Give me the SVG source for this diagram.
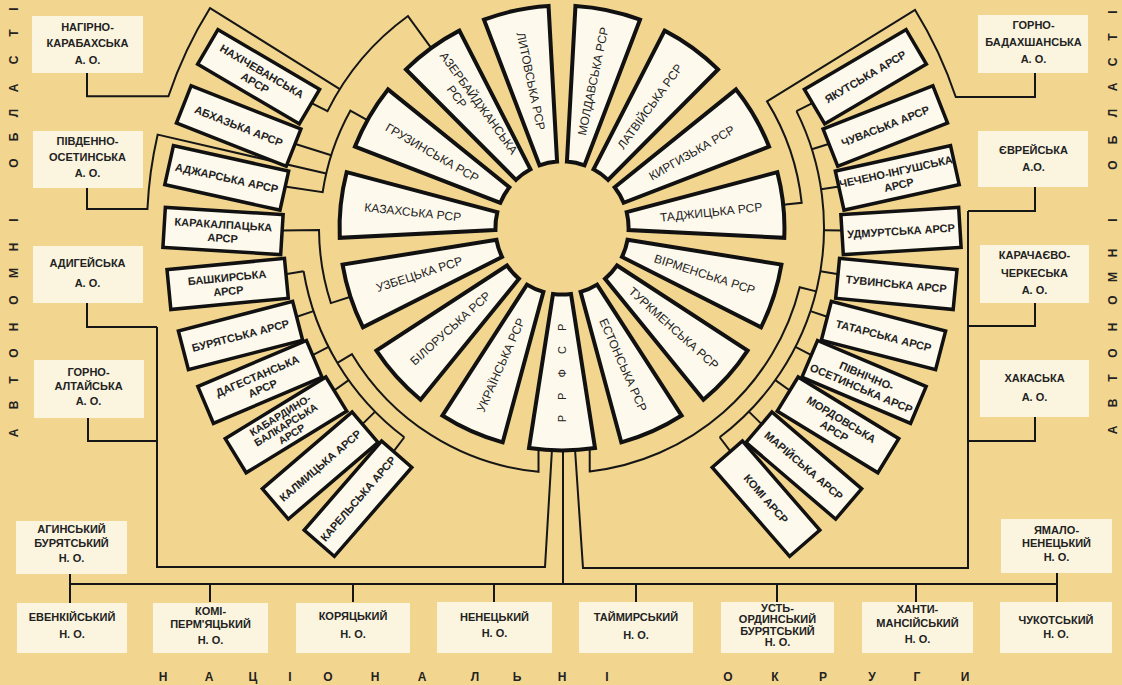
<svg xmlns="http://www.w3.org/2000/svg" width="1122" height="685" viewBox="0 0 1122 685">
<defs>
<style>
.bg{fill:#f2d690}
.sec{fill:#fdf9ec;stroke:#111;stroke-width:4;stroke-linejoin:miter}
.box{fill:#fdf9ec;stroke:#111;stroke-width:3.5}
.lbl{fill:#fbf5df}
.c path{fill:none;stroke:#161616;stroke-width:2;stroke-linejoin:miter}
.st{font-family:"Liberation Sans",Arial,sans-serif;font-size:12px;fill:#222;text-anchor:middle}
.at{font-family:"Liberation Sans",Arial,sans-serif;font-size:11px;font-weight:bold;fill:#222;text-anchor:middle}
.at3{font-family:"Liberation Sans",Arial,sans-serif;font-size:10.5px;font-weight:bold;fill:#222;text-anchor:middle}
.ot{font-family:"Liberation Sans",Arial,sans-serif;font-size:11px;font-weight:bold;fill:#222;text-anchor:middle}
.big{font-family:"Liberation Sans",Arial,sans-serif;font-size:12px;font-weight:bold;fill:#222;text-anchor:middle}
</style>
<path id="sec" d="M66,-9 L220,-33 A222.5,222.5 0 0 1 220,33 L66,9 A66.6,66.6 0 0 0 66,-9 Z"/>
</defs>
<rect class="bg" width="1122" height="685"/>

<g id="connectors" class="c">
<path d="M87,73 V96.3 H168.45 A415,415 0 0 1 210.06,8.08 L339.81,89.16"/>
<path d="M309.63,102.17 L327.53,111.10 A262,262 0 0 1 408.00,16.04 L435.63,54.06"/>
<path d="M373.96,123.77 L350.34,110.68 A242,242 0 0 0 322.66,192.23 L283.10,186.32"/>
<path d="M331.20,155.23 L293.05,143.20"/>
<path d="M87,188 V209 H147.43 A415,415 0 0 1 157.64,134.65 L326.20,173.56"/>
<path d="M282,230.46 L319,230.12 A243,243 0 0 0 330.89,303.09 L357.52,294.44"/>
<path d="M303.59,271.24 A262,262 0 0 0 404.32,437.24"/>
<path d="M283.87,274.54 L303.59,271.24 M294.57,317.48 L313.54,311.13 M310.74,356.03 L328.56,346.95 M332.42,391.76 L348.70,380.14 M360.86,425.66 L375.13,411.64 M392.29,453.22 L404.32,437.24"/>
<path d="M538.5,449 L538.52,471.87 A245,245 0 0 1 351.99,354.18 L337.42,362.94"/>
<path d="M796.47,111.10 A262,262 0 0 1 719.68,437.24"/>
<path d="M814.37,102.17 L796.47,111.10 M830.95,143.20 L811.87,149.21 M840.90,186.32 L821.12,189.27 M843.99,230.46 L823.99,230.29 M840.13,274.54 L820.41,271.24 M829.43,317.48 L810.46,311.13 M813.26,356.03 L795.44,346.95 M791.58,391.76 L775.30,380.14 M763.14,425.66 L748.87,411.64 M731.71,453.22 L719.68,437.24"/>
<path d="M589.7,449 L589.73,471.42 A245,245 0 0 0 799.72,287.27 L816.22,291.38"/>
<path d="M1035,73 V97 H955.78 A415,415 0 0 0 915.09,9.93 L767.05,101.36 A241,241 0 0 1 801.68,202.81 L775.82,205.53"/>
<path d="M87,303 V327 H157 M88,418 V441 H157 M157,327 V567 H545 L552,449"/>
<path d="M1035,187 V211 H968 M1035,303 V326 H968 M1035,417 V441 H968 M968,211 V568 H583 L575,449"/>
<path d="M563,449 V584 M70,584 H1057 M70,574 V603 M1057,573 V602 M210,584 V602 M353,584 V602 M494,584 V602 M636,584 V602 M777,584 V602 M916,584 V602"/>
</g>

<g id="republics">
<g id="ssr-rsfsr" transform="translate(562,228) rotate(90)"><use href="#sec" class="sec"/><text class="st" style="font-size:11px" transform="rotate(180 145 0)" x="148" y="4" letter-spacing="6">Р Р Ф С Р</text></g>
<g id="ssr-estonia" transform="translate(562,228) rotate(66)"><use href="#sec" class="sec"/><text class="st" x="150" y="4">ЕСТОНСЬКА РСР</text></g>
<g id="ssr-turkmenia" transform="translate(562,228) rotate(42)"><use href="#sec" class="sec"/><text class="st" x="150" y="4">ТУРКМЕНСЬКА РСР</text></g>
<g id="ssr-armenia" transform="translate(562,228) rotate(18)"><use href="#sec" class="sec"/><text class="st" x="150" y="4">ВІРМЕНСЬКА РСР</text></g>
<g id="ssr-tajikistan" transform="translate(562,228) rotate(-6)"><use href="#sec" class="sec"/><text class="st" x="150" y="4">ТАДЖИЦЬКА РСР</text></g>
<g id="ssr-kyrgyzstan" transform="translate(562,228) rotate(-30)"><use href="#sec" class="sec"/><text class="st" x="150" y="4">КИРГИЗЬКА РСР</text></g>
<g id="ssr-latvia" transform="translate(562,228) rotate(-54)"><use href="#sec" class="sec"/><text class="st" x="150" y="4">ЛАТВІЙСЬКА РСР</text></g>
<g id="ssr-moldavia" transform="translate(562,228) rotate(-78)"><use href="#sec" class="sec"/><text class="st" x="150" y="4">МОЛДАВСЬКА РСР</text></g>
<g id="ssr-lithuania" transform="translate(562,228) rotate(-102)"><use href="#sec" class="sec"/><text class="st" transform="rotate(180 150 0)" x="150" y="4">ЛИТОВСЬКА РСР</text></g>
<g id="ssr-azerbaijan" transform="translate(562,228) rotate(-126)"><use href="#sec" class="sec"/><g transform="rotate(180 150 0)"><text class="st" x="150" y="-2">АЗЕРБАЙДЖАНСЬКА</text><text class="st" x="132" y="12">РСР</text></g></g>
<g id="ssr-georgia" transform="translate(562,228) rotate(-150)"><use href="#sec" class="sec"/><text class="st" transform="rotate(180 150 0)" x="150" y="4">ГРУЗИНСЬКА РСР</text></g>
<g id="ssr-kazakhstan" transform="translate(562,228) rotate(-174)"><use href="#sec" class="sec"/><text class="st" transform="rotate(180 150 0)" x="150" y="4">КАЗАХСЬКА РСР</text></g>
<g id="ssr-uzbekistan" transform="translate(562,228) rotate(162)"><use href="#sec" class="sec"/><text class="st" transform="rotate(180 150 0)" x="150" y="4">УЗБЕЦЬКА РСР</text></g>
<g id="ssr-belarus" transform="translate(562,228) rotate(138)"><use href="#sec" class="sec"/><text class="st" transform="rotate(180 150 0)" x="150" y="4">БІЛОРУСЬКА РСР</text></g>
<g id="ssr-ukraine" transform="translate(562,228) rotate(114)"><use href="#sec" class="sec"/><text class="st" transform="rotate(180 150 0)" x="150" y="4">УКРАЇНСЬКА РСР</text></g>
</g>

<g id="assr">
<g id="assr-nakhichevan" transform="translate(562,228) rotate(206.5) translate(339,0) rotate(-176)"><rect class="box" x="-59" y="-20" width="118" height="40"/><text class="at"><tspan x="0" y="-2.5">НАХІЧЕВАНСЬКА</tspan><tspan x="0" y="11">АРСР</tspan></text></g>
<g id="assr-abkhazia" transform="translate(562,228) rotate(197.5) translate(339,0) rotate(-176)"><rect class="box" x="-59" y="-20" width="118" height="40"/><text class="at" x="0" y="4">АБХАЗЬКА АРСР</text></g>
<g id="assr-adjaria" transform="translate(562,228) rotate(188.5) translate(339,0) rotate(-176)"><rect class="box" x="-59" y="-20" width="118" height="40"/><text class="at" x="0" y="4">АДЖАРСЬКА АРСР</text></g>
<g id="assr-karakalpak" transform="translate(562,228) rotate(179.5) translate(339,0) rotate(-176)"><rect class="box" x="-59" y="-20" width="118" height="40"/><text class="at"><tspan x="0" y="-2.5">КАРАКАЛПАЦЬКА</tspan><tspan x="0" y="11">АРСР</tspan></text></g>
<g id="assr-bashkir" transform="translate(562,228) rotate(170.5) translate(339,0) rotate(-176)"><rect class="box" x="-59" y="-20" width="118" height="40"/><text class="at"><tspan x="0" y="-2.5">БАШКИРСЬКА</tspan><tspan x="0" y="11">АРСР</tspan></text></g>
<g id="assr-buryat" transform="translate(562,228) rotate(161.5) translate(339,0) rotate(-176)"><rect class="box" x="-59" y="-20" width="118" height="40"/><text class="at" x="0" y="4">БУРЯТСЬКА АРСР</text></g>
<g id="assr-dagestan" transform="translate(562,228) rotate(153) translate(339,0) rotate(-176)"><rect class="box" x="-59" y="-20" width="118" height="40"/><text class="at"><tspan x="0" y="-2.5">ДАГЕСТАНСЬКА</tspan><tspan x="0" y="11">АРСР</tspan></text></g>
<g id="assr-kabardino-balkar" transform="translate(562,228) rotate(144.5) translate(339,0) rotate(-176)"><rect class="box" x="-59" y="-20" width="118" height="40"/><text class="at3"><tspan x="0" y="-7.5">КАБАРДИНО-</tspan><tspan x="0" y="3.5">БАЛКАРСЬКА</tspan><tspan x="0" y="14.5">АРСР</tspan></text></g>
<g id="assr-kalmyk" transform="translate(562,228) rotate(135.5) translate(339,0) rotate(-176)"><rect class="box" x="-59" y="-20" width="118" height="40"/><text class="at" x="0" y="4">КАЛМИЦЬКА АРСР</text></g>
<g id="assr-karelia" transform="translate(562,228) rotate(127) translate(339,0) rotate(-176)"><rect class="box" x="-59" y="-20" width="118" height="40"/><text class="at" x="0" y="4">КАРЕЛЬСЬКА АРСР</text></g>
<g id="assr-yakut" transform="translate(562,228) rotate(-26.5) translate(339,0) rotate(-4)"><rect class="box" x="-59" y="-20" width="118" height="40"/><text class="at" x="0" y="4">ЯКУТСЬКА АРСР</text></g>
<g id="assr-chuvash" transform="translate(562,228) rotate(-17.5) translate(339,0) rotate(-4)"><rect class="box" x="-59" y="-20" width="118" height="40"/><text class="at" x="0" y="4">ЧУВАСЬКА АРСР</text></g>
<g id="assr-chechen-ingush" transform="translate(562,228) rotate(-8.5) translate(339,0) rotate(-4)"><rect class="box" x="-59" y="-20" width="118" height="40"/><text class="at"><tspan x="0" y="-2.5">ЧЕЧЕНО-ІНГУШСЬКА</tspan><tspan x="0" y="11">АРСР</tspan></text></g>
<g id="assr-udmurt" transform="translate(562,228) rotate(0.5) translate(339,0) rotate(-4)"><rect class="box" x="-59" y="-20" width="118" height="40"/><text class="at" x="0" y="4">УДМУРТСЬКА АРСР</text></g>
<g id="assr-tuva" transform="translate(562,228) rotate(9.5) translate(339,0) rotate(-4)"><rect class="box" x="-59" y="-20" width="118" height="40"/><text class="at" x="0" y="4">ТУВИНСЬКА АРСР</text></g>
<g id="assr-tatar" transform="translate(562,228) rotate(18.5) translate(339,0) rotate(-4)"><rect class="box" x="-59" y="-20" width="118" height="40"/><text class="at" x="0" y="4">ТАТАРСЬКА АРСР</text></g>
<g id="assr-north-ossetia" transform="translate(562,228) rotate(27) translate(339,0) rotate(-4)"><rect class="box" x="-59" y="-20" width="118" height="40"/><text class="at"><tspan x="0" y="-2.5">ПІВНІЧНО-</tspan><tspan x="0" y="11">ОСЕТИНСЬКА АРСР</tspan></text></g>
<g id="assr-mordovia" transform="translate(562,228) rotate(35.5) translate(339,0) rotate(-4)"><rect class="box" x="-59" y="-20" width="118" height="40"/><text class="at"><tspan x="0" y="-2.5">МОРДОВСЬКА</tspan><tspan x="0" y="11">АРСР</tspan></text></g>
<g id="assr-mari" transform="translate(562,228) rotate(44.5) translate(339,0) rotate(-4)"><rect class="box" x="-59" y="-20" width="118" height="40"/><text class="at" x="0" y="4">МАРІЙСЬКА АРСР</text></g>
<g id="assr-komi" transform="translate(562,228) rotate(53) translate(339,0) rotate(-4)"><rect class="box" x="-59" y="-20" width="118" height="40"/><text class="at" x="0" y="4">КОМІ АРСР</text></g>
</g>

<g id="oblasts">
<g id="ao-nagorno-karabakh"><rect class="lbl" x="32" y="16" width="111" height="57"/><text class="ot"><tspan x="87.5" y="30.5">НАГІРНО-</tspan><tspan x="87.5" y="46.5">КАРАБАХСЬКА</tspan><tspan x="87.5" y="63.5">А. О.</tspan></text></g>
<g id="ao-south-ossetia"><rect class="lbl" x="33" y="131" width="110" height="57"/><text class="ot"><tspan x="87.5" y="144.5">ПІВДЕННО-</tspan><tspan x="87.5" y="160.5">ОСЕТИНСЬКА</tspan><tspan x="87.5" y="176.5">А. О.</tspan></text></g>
<g id="ao-adygei"><rect class="lbl" x="33" y="246" width="110" height="57"/><text class="ot"><tspan x="87.5" y="266.5">АДИГЕЙСЬКА</tspan><tspan x="87.5" y="286.5">А. О.</tspan></text></g>
<g id="ao-gorno-altai"><rect class="lbl" x="34" y="360" width="110" height="58"/><text class="ot"><tspan x="88.5" y="375.5">ГОРНО-</tspan><tspan x="88.5" y="390">АЛТАЙСЬКА</tspan><tspan x="88.5" y="404.5">А. О.</tspan></text></g>
<g id="ao-gorno-badakhshan"><rect class="lbl" x="978" y="15" width="110" height="58"/><text class="ot"><tspan x="1033.5" y="28.5">ГОРНО-</tspan><tspan x="1033.5" y="45.5">БАДАХШАНСЬКА</tspan><tspan x="1033.5" y="62.5">А. О.</tspan></text></g>
<g id="ao-jewish"><rect class="lbl" x="978" y="131" width="110" height="56"/><text class="ot"><tspan x="1033.5" y="153.5">ЄВРЕЙСЬКА</tspan><tspan x="1033.5" y="170.5">А.О.</tspan></text></g>
<g id="ao-karachai-cherkess"><rect class="lbl" x="980" y="245" width="109" height="58"/><text class="ot"><tspan x="1034.5" y="258.5">КАРАЧАЄВО-</tspan><tspan x="1034.5" y="276.5">ЧЕРКЕСЬКА</tspan><tspan x="1034.5" y="293.5">А. О.</tspan></text></g>
<g id="ao-khakass"><rect class="lbl" x="980" y="360" width="109" height="57"/><text class="ot"><tspan x="1034.5" y="381.5">ХАКАСЬКА</tspan><tspan x="1034.5" y="400.5">А. О.</tspan></text></g>
</g>

<g id="okrugs">
<g id="no-aga-buryat"><rect class="lbl" x="16" y="521" width="111" height="53"/><text class="ot"><tspan x="71.5" y="532.5">АГИНСЬКИЙ</tspan><tspan x="71.5" y="546.5">БУРЯТСЬКИЙ</tspan><tspan x="71.5" y="561.5">Н. О.</tspan></text></g>
<g id="no-yamal-nenets"><rect class="lbl" x="1001" y="519" width="111" height="54"/><text class="ot"><tspan x="1056.5" y="533.5">ЯМАЛО-</tspan><tspan x="1056.5" y="546.5">НЕНЕЦЬКИЙ</tspan><tspan x="1056.5" y="560.5">Н. О.</tspan></text></g>
<g id="no-evenki"><rect class="lbl" x="17" y="603" width="110" height="50"/><text class="ot"><tspan x="72" y="620.5">ЕВЕНКІЙСЬКИЙ</tspan><tspan x="72" y="637.5">Н. О.</tspan></text></g>
<g id="no-komi-permyak"><rect class="lbl" x="153" y="603" width="115" height="50"/><text class="ot"><tspan x="210.5" y="614.5">КОМІ-</tspan><tspan x="210.5" y="628">ПЕРМ'ЯЦЬКИЙ</tspan><tspan x="210.5" y="643.5">Н. О.</tspan></text></g>
<g id="no-koryak"><rect class="lbl" x="296" y="603" width="114" height="50"/><text class="ot"><tspan x="353" y="619.5">КОРЯЦЬКИЙ</tspan><tspan x="353" y="637.5">Н. О.</tspan></text></g>
<g id="no-nenets"><rect class="lbl" x="437" y="602" width="115" height="51"/><text class="ot"><tspan x="494.5" y="620.5">НЕНЕЦЬКИЙ</tspan><tspan x="494.5" y="636.5">Н. О.</tspan></text></g>
<g id="no-taimyr"><rect class="lbl" x="579" y="602" width="114" height="51"/><text class="ot"><tspan x="636" y="620.5">ТАЙМИРСЬКИЙ</tspan><tspan x="636" y="638.5">Н. О.</tspan></text></g>
<g id="no-ust-orda"><rect class="lbl" x="721" y="602" width="113" height="51"/><text class="ot"><tspan x="777.5" y="611.5">УСТЬ-</tspan><tspan x="777.5" y="622.5">ОРДИНСЬКИЙ</tspan><tspan x="777.5" y="634.5">БУРЯТСЬКИЙ</tspan><tspan x="777.5" y="645.5">Н. О.</tspan></text></g>
<g id="no-khanty-mansi"><rect class="lbl" x="862" y="602" width="111" height="51"/><text class="ot"><tspan x="917.5" y="612.5">ХАНТИ-</tspan><tspan x="917.5" y="627">МАНСІЙСЬКИЙ</tspan><tspan x="917.5" y="643">Н. О.</tspan></text></g>
<g id="no-chukot"><rect class="lbl" x="1000" y="602" width="112" height="51"/><text class="ot"><tspan x="1056" y="623.5">ЧУКОТСЬКИЙ</tspan><tspan x="1056" y="637.5">Н. О.</tspan></text></g>
</g>

<g id="side-labels">
<text class="big" transform="rotate(-90)" y="17.5" x="-433 -405 -380 -353 -327 -300 -273 -247 -220 -192 -163 -137 -113 -88 -60 -33 -9">АВТОНОМНІ ОБЛАСТІ</text>
<text class="big" transform="rotate(-90)" y="1116.5" x="-430 -403 -378 -353 -327 -300 -277 -253 -220 -192 -165 -140 -113 -87 -62 -37 -12">АВТОНОМНІ ОБЛАСТІ</text>
<text class="big" y="681" x="163 209 253 290 328 375 422 475 517 562 607 667 728 775 823 872 917 965">НАЦІОНАЛЬНІ ОКРУГИ</text>
</g>
</svg>
